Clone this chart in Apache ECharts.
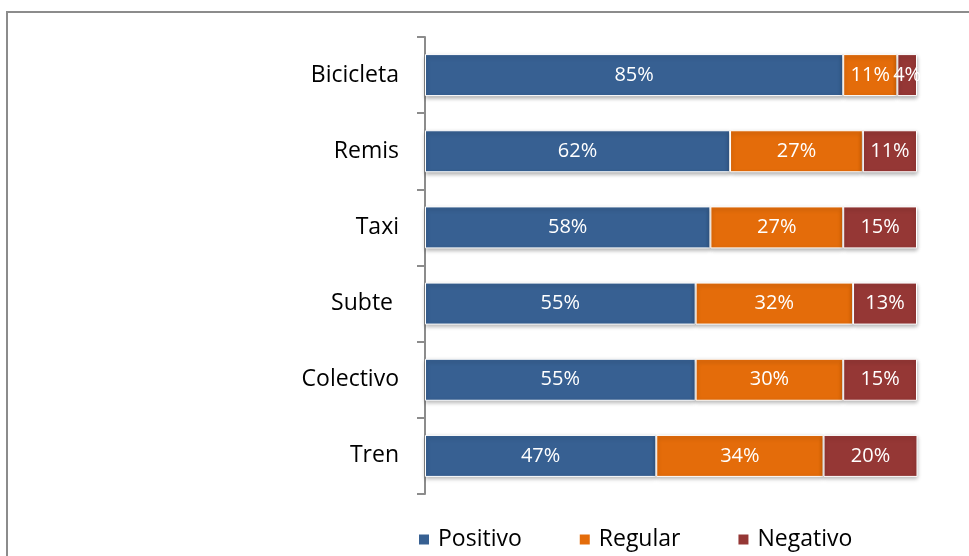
<!DOCTYPE html>
<html>
<head>
<meta charset="utf-8">
<script src="https://cdn.jsdelivr.net/npm/echarts@6/dist/echarts.min.js"></script>
<style>
html,body{margin:0;padding:0;background:#fff;}
#chart{width:969px;height:556px;}
</style>
</head>
<body>
<div id="chart"></div>
<script>
var categorias=["Tren","Colectivo","Subte ","Taxi","Remis","Bicicleta"];
var positivo=[47,55,55,58,62,85];
var regular=[34,30,32,27,27,11];
var negativo=[20,15,13,15,11,4];
var series_names=["Positivo","Regular","Negativo"];
var colores=["#376092","#E46C0A","#953735"];

var fuente="'Open Sans', sans-serif";
function serie(name,datos,color){
	return {
		name:name,
		type:"bar",
		stack:"total",
		barWidth:42,
		data:datos,
		itemStyle:{
			color:color,
			borderColor:"#fff",
			borderWidth:1,
			shadowColor:"rgba(0,0,0,0.3)",
			shadowBlur:4,
			shadowOffsetY:2
		},
		label:{
			show:true,
			position:"inside",
			formatter:"{c}%",
			color:"#fff",
			fontSize:20,
			fontFamily:fuente
		}
	};
}
var chart=echarts.init(document.getElementById("chart"));
chart.setOption({
	animation:false,
	graphic:[{
		type:"rect",
		shape:{x:7,y:12,width:1000,height:600},
		style:{fill:"none",stroke:"#8c8c8c",lineWidth:2},
		z:-1
	}],
	grid:{left:425,right:52,top:37,bottom:62},
	legend:{
		bottom:0,
		left:412,
		data:series_names,
		icon:"rect",
		itemWidth:12,
		itemHeight:12,
		itemGap:56,
		textStyle:{fontSize:23,color:"#000",fontFamily:fuente,padding:[0,0,0,3]}
	},
	xAxis:{
		type:"value",
		min:0,
		max:100,
		show:false
	},
	yAxis:{
		type:"category",
		data:categorias,
		axisLine:{show:true,lineStyle:{color:"#8c8c8c",width:2}},
		axisTick:{show:true,length:8,lineStyle:{color:"#8c8c8c",width:2}},
		axisLabel:{fontSize:23,color:"#000",margin:26,fontFamily:fuente}
	},
	series:[
		serie(series_names[0],positivo,colores[0]),
		serie(series_names[1],regular,colores[1]),
		serie(series_names[2],negativo,colores[2])
	]
});
</script>
</body>
</html>
